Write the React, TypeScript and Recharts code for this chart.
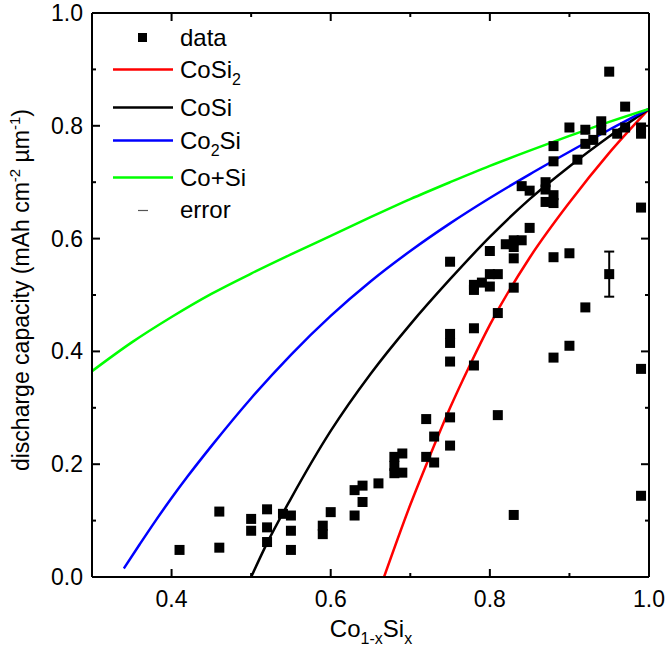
import React from 'react';
import { ComposedChart, Line, Scatter, XAxis, YAxis, ErrorBar } from 'recharts';

const FONT = '"Liberation Sans", Arial, sans-serif';

const xTicks = [0.3, 0.4, 0.5, 0.6, 0.7, 0.8, 0.9, 1.0];
const xLabelTicks = [0.4, 0.6, 0.8, 1.0];
const yTicks = [0, 0.1, 0.2, 0.3, 0.4, 0.5, 0.6, 0.7, 0.8, 0.9, 1.0];
const yLabelTicks = [0, 0.2, 0.4, 0.6, 0.8, 1.0];

const dataPoints: [number, number][] = [
  [0.41, 0.048], [0.46, 0.116], [0.46, 0.052], [0.5, 0.103], [0.5, 0.082],
  [0.52, 0.12], [0.52, 0.088], [0.52, 0.062], [0.54, 0.112], [0.55, 0.109],
  [0.55, 0.082], [0.55, 0.048], [0.59, 0.091], [0.59, 0.076], [0.6, 0.115],
  [0.63, 0.154], [0.63, 0.109], [0.64, 0.162], [0.64, 0.133], [0.66, 0.166],
  [0.68, 0.213], [0.68, 0.197], [0.68, 0.184], [0.69, 0.219], [0.69, 0.185],
  [0.72, 0.28], [0.72, 0.213], [0.73, 0.249], [0.73, 0.203], [0.75, 0.283],
  [0.75, 0.233], [0.81, 0.287], [0.83, 0.11], [0.99, 0.144], [0.99, 0.369],
  [0.78, 0.375], [0.75, 0.382], [0.75, 0.415], [0.75, 0.431], [0.78, 0.441],
  [0.81, 0.468], [0.83, 0.513], [0.78, 0.509], [0.78, 0.518], [0.79, 0.522],
  [0.8, 0.515], [0.8, 0.537], [0.81, 0.537], [0.8, 0.578], [0.75, 0.559],
  [0.83, 0.565], [0.83, 0.585], [0.82, 0.59], [0.83, 0.597], [0.84, 0.597],
  [0.85, 0.619], [0.88, 0.567], [0.9, 0.574], [0.92, 0.478], [0.9, 0.41],
  [0.88, 0.389], [0.99, 0.655], [0.87, 0.665], [0.88, 0.663], [0.88, 0.677],
  [0.85, 0.685], [0.87, 0.687], [0.84, 0.693], [0.87, 0.7], [0.88, 0.737],
  [0.91, 0.74], [0.88, 0.764], [0.92, 0.768], [0.93, 0.775], [0.96, 0.786],
  [0.99, 0.786], [0.94, 0.792], [0.92, 0.793], [0.9, 0.797], [0.97, 0.797],
  [0.99, 0.797], [0.94, 0.808], [0.97, 0.834], [0.95, 0.896],
];

const errorPoints: [number, number, number][] = [[0.95, 0.537, 0.04]];

const cosi2Curve: [number, number][] = [
  [0.667, 0.0], [0.7, 0.128], [0.725, 0.216], [0.75, 0.3], [0.775, 0.376], [0.8, 0.447],
  [0.85, 0.566], [0.9, 0.664], [0.95, 0.752], [1.0, 0.83],
];
const cosiCurve: [number, number][] = [
  [0.5, 0.0], [0.52, 0.06], [0.55, 0.139], [0.6, 0.259], [0.65, 0.36], [0.7, 0.448],
  [0.75, 0.528], [0.8, 0.603], [0.85, 0.67], [0.9, 0.728], [0.95, 0.781], [1.0, 0.83],
];
const co2siCurve: [number, number][] = [
  [0.34, 0.015], [0.36, 0.058], [0.38, 0.1], [0.4, 0.14], [0.42, 0.178], [0.45, 0.232],
  [0.5, 0.317], [0.55, 0.394], [0.6, 0.463], [0.65, 0.524], [0.7, 0.578], [0.75, 0.627],
  [0.8, 0.672], [0.85, 0.714], [0.9, 0.754], [0.95, 0.793], [1.0, 0.83],
];
const coSiCurve: [number, number][] = [
  [0.3, 0.365], [0.35, 0.416], [0.4, 0.461], [0.45, 0.502], [0.5, 0.538], [0.55, 0.572],
  [0.6, 0.605], [0.65, 0.638], [0.7, 0.67], [0.75, 0.7], [0.8, 0.729], [0.85, 0.756],
  [0.9, 0.782], [0.95, 0.807], [1.0, 0.83],
];

const toXY = (arr: [number, number][]) => arr.map(([x, y]) => ({ x, y }));
const scatterData = toXY(dataPoints);
const errorData = errorPoints.map(([x, y, err]) => ({ x, y, err }));

const curves = [
  { name: 'CoSi2', data: toXY(cosi2Curve), color: '#ff0000' },
  { name: 'CoSi', data: toXY(cosiCurve), color: '#000000' },
  { name: 'Co2Si', data: toXY(co2siCurve), color: '#0000ff' },
  { name: 'Co+Si', data: toXY(coSiCurve), color: '#00ff00' },
];

type Part = { t: string; sub?: boolean };
const legendItems: { kind: string; color: string; parts: Part[] }[] = [
  { kind: 'square', color: '#000', parts: [{ t: 'data' }] },
  { kind: 'line', color: '#ff0000', parts: [{ t: 'CoSi' }, { t: '2', sub: true }] },
  { kind: 'line', color: '#000000', parts: [{ t: 'CoSi' }] },
  { kind: 'line', color: '#0000ff', parts: [{ t: 'Co' }, { t: '2', sub: true }, { t: 'Si' }] },
  { kind: 'line', color: '#00ff00', parts: [{ t: 'Co+Si' }] },
  { kind: 'dash', color: '#555', parts: [{ t: 'error' }] },
];
const legendBaselines = [46, 78, 116, 149, 186, 218];

const isIn = (v: number, list: number[]) => list.some((t) => Math.abs(t - v) < 1e-6);

const TICK_FS = 23;

const BottomTick = (props: any) => {
  const { x, y, payload } = props;
  const v = payload.value as number;
  const major = isIn(v, xLabelTicks);
  return (
    <g>
      <line x1={x} x2={x} y1={y} y2={y - (major ? 8 : 4)} stroke="#000" strokeWidth={2} />
      {major && (
        <text x={x} y={y + 30} textAnchor="middle" fontSize={TICK_FS} fontFamily={FONT} fill="#000">
          {v.toFixed(1)}
        </text>
      )}
    </g>
  );
};
const TopTick = (props: any) => {
  const { x, y, payload } = props;
  const major = isIn(payload.value, xLabelTicks);
  return <line x1={x} x2={x} y1={y} y2={y + (major ? 8 : 4)} stroke="#000" strokeWidth={2} />;
};
const LeftTick = (props: any) => {
  const { x, y, payload } = props;
  const v = payload.value as number;
  const major = isIn(v, yLabelTicks);
  return (
    <g>
      <line x1={x} x2={x + (major ? 8 : 4)} y1={y} y2={y} stroke="#000" strokeWidth={2} />
      {major && (
        <text x={x - 9} y={y} dy="0.35em" textAnchor="end" fontSize={TICK_FS} fontFamily={FONT} fill="#000">
          {v.toFixed(1)}
        </text>
      )}
    </g>
  );
};
const RightTick = (props: any) => {
  const { x, y, payload } = props;
  const major = isIn(payload.value, yLabelTicks);
  return <line x1={x} x2={x - (major ? 8 : 4)} y1={y} y2={y} stroke="#000" strokeWidth={2} />;
};

const SquareShape = (props: any) => {
  const { cx, cy } = props;
  if (cx == null || cy == null) return null;
  return <rect x={cx - 5} y={cy - 5} width={10} height={10} fill="#000" />;
};

const renderParts = (parts: Part[], fs: number, subFs: number, shift: number) => {
  let offset = 0;
  return parts.map((p, i) => {
    const target = p.sub ? shift : 0;
    const dy = target - offset;
    offset = target;
    return (
      <tspan key={i} dy={dy} fontSize={p.sub ? subFs : fs}>
        {p.t}
      </tspan>
    );
  });
};

const axisLine = { stroke: '#000', strokeWidth: 2 };

export default function App() {
  return (
    <div style={{ position: 'absolute', left: 0, top: 0, width: 667, height: 648, background: '#fff' }}>
      <ComposedChart width={667} height={648} margin={{ top: 0, right: 0, bottom: 0, left: 0 }}>
        <XAxis
          dataKey="x"
          type="number"
          domain={[0.3, 1.0]}
          ticks={xTicks}
          interval={0}
          allowDataOverflow
          height={71}
          tickSize={0}
          tickMargin={0}
          tickLine={false}
          axisLine={axisLine}
          tick={<BottomTick />}
        />
        <XAxis
          xAxisId="top"
          orientation="top"
          dataKey="x"
          type="number"
          domain={[0.3, 1.0]}
          ticks={xTicks}
          interval={0}
          allowDataOverflow
          height={13}
          tickSize={0}
          tickMargin={0}
          tickLine={false}
          axisLine={axisLine}
          tick={<TopTick />}
        />
        <YAxis
          dataKey="y"
          type="number"
          domain={[0, 1]}
          ticks={yTicks}
          interval={0}
          allowDataOverflow
          width={92}
          tickSize={0}
          tickMargin={0}
          tickLine={false}
          axisLine={axisLine}
          tick={<LeftTick />}
        />
        <YAxis
          yAxisId="right"
          orientation="right"
          dataKey="y"
          type="number"
          domain={[0, 1]}
          ticks={yTicks}
          interval={0}
          allowDataOverflow
          width={18}
          tickSize={0}
          tickMargin={0}
          tickLine={false}
          axisLine={axisLine}
          tick={<RightTick />}
        />
        {curves.map((c) => (
          <Line
            key={c.name}
            data={c.data}
            dataKey="y"
            type="monotone"
            stroke={c.color}
            strokeWidth={2.5}
            dot={false}
            activeDot={false}
            isAnimationActive={false}
          />
        ))}
        <Scatter data={scatterData} dataKey="y" shape={<SquareShape />} isAnimationActive={false} />
        <Scatter data={errorData} dataKey="y" shape={<SquareShape />} isAnimationActive={false}>
          <ErrorBar dataKey="err" direction="y" width={5} stroke="#000" strokeWidth={2} isAnimationActive={false} />
        </Scatter>
      </ComposedChart>
      <svg
        width={667}
        height={648}
        style={{ position: 'absolute', left: 0, top: 0, pointerEvents: 'none' }}
        fontFamily={FONT}
      >
        {legendItems.map((item, i) => {
          const base = legendBaselines[i];
          const my = base - 8.5;
          return (
            <g key={i}>
              {item.kind === 'square' && <rect x={138} y={my - 4.5} width={9} height={9} fill={item.color} />}
              {item.kind === 'line' && <line x1={113} x2={173} y1={my} y2={my} stroke={item.color} strokeWidth={2.5} />}
              {item.kind === 'dash' && <line x1={138} x2={148} y1={my + 1} y2={my + 1} stroke={item.color} strokeWidth={1.2} />}
              <text x={180} y={base} fontSize={24} fill="#000">
                {renderParts(item.parts, 24, 16, 7)}
              </text>
            </g>
          );
        })}
        <text transform="rotate(-90)" x={-290} y={29} textAnchor="middle" fontSize={23} fill="#000">
          <tspan>discharge capacity (mAh cm</tspan>
          <tspan dy={-9} fontSize={15}>-2</tspan>
          <tspan dy={9}> µm</tspan>
          <tspan dy={-9} fontSize={15}>-1</tspan>
          <tspan dy={9}>)</tspan>
        </text>
        <text x={371} y={637} textAnchor="middle" fontSize={24} fill="#000">
          <tspan>Co</tspan>
          <tspan dy={7} fontSize={16}>1-x</tspan>
          <tspan dy={-7}>Si</tspan>
          <tspan dy={7} fontSize={16}>x</tspan>
        </text>
      </svg>
    </div>
  );
}
